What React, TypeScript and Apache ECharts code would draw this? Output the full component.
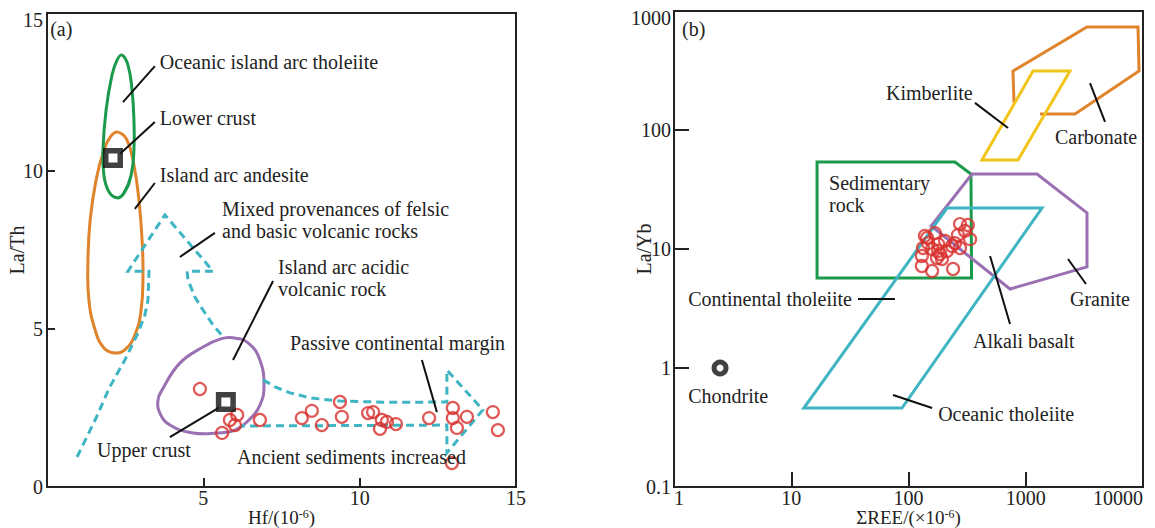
import React, { useEffect, useRef } from "react";
import * as echarts from "echarts";

const FONT = "Liberation Serif";
const TXT = "#222";

// ---------- Panel (a): La/Th vs Hf ----------
const leftXTicks = [0, 5, 10, 15];
const leftYTicks = [0, 5, 10, 15];

const leftSamples: number[][] = [
  [4.89, 3.1], [6.08, 2.28], [5.85, 2.12], [6.01, 1.96], [5.6, 1.71],
  [6.81, 2.12], [8.15, 2.18], [8.47, 2.41], [8.79, 1.96], [9.37, 2.69],
  [9.43, 2.22], [10.27, 2.34], [10.43, 2.37], [10.71, 2.12], [10.87, 2.06],
  [10.65, 1.84], [11.16, 1.99], [12.22, 2.18], [12.98, 2.5], [12.98, 2.18],
  [13.11, 1.87], [13.43, 2.22], [12.95, 0.76], [14.26, 2.37], [14.42, 1.8],
];
const lowerCrust: number[][] = [[2.11, 10.41]];
const upperCrust: number[][] = [[5.72, 2.69]];

const oceanicArcTholeiite: number[][] = [
  [2.4, 13.67], [2.59, 13.35], [2.72, 12.56], [2.78, 11.61], [2.78, 10.66],
  [2.69, 9.87], [2.46, 9.3], [2.24, 9.15], [1.98, 9.34], [1.82, 9.87],
  [1.79, 10.66], [1.89, 11.93], [2.08, 13.04], [2.24, 13.51],
];
const islandArcAndesite: number[][] = [
  [2.27, 11.23], [2.56, 10.98], [2.78, 10.19], [2.94, 9.08], [3.04, 7.82],
  [3.07, 6.71], [3.01, 5.6], [2.81, 4.81], [2.49, 4.34], [2.17, 4.24],
  [1.82, 4.4], [1.54, 4.97], [1.34, 5.92], [1.31, 7.18], [1.38, 8.45],
  [1.57, 9.72], [1.82, 10.66], [2.05, 11.11],
];
const islandArcAcidic: number[][] = [
  [5.95, 4.72], [6.43, 4.56], [6.81, 4.02], [6.94, 3.16], [6.81, 2.59],
  [6.56, 2.22], [6.01, 1.8], [5.44, 1.71], [4.67, 1.71], [3.93, 1.96],
  [3.61, 2.34], [3.55, 2.75], [3.68, 3.07], [4.25, 3.92], [4.99, 4.43],
  [5.53, 4.68],
];
const mixedArrow: number[][] = [
  [0.96, 0.95], [1.54, 2.12], [2.01, 3.17], [2.49, 4.02], [2.91, 4.87],
  [3.13, 5.44], [3.23, 5.92], [3.26, 6.83], [2.59, 6.83], [3.77, 8.61],
  [5.31, 6.83], [4.48, 6.83], [4.51, 6.55], [4.73, 6.01], [4.99, 5.6],
  [5.31, 5.13], [5.63, 4.75],
];
const passiveArrow: number[][] = [
  [6.91, 3.39], [7.29, 3.17], [7.77, 2.98], [8.41, 2.82], [9.37, 2.72],
  [10.97, 2.68], [12.79, 2.69], [12.79, 3.7], [13.94, 2.44], [12.79, 1.08],
  [12.79, 1.96], [6.17, 1.93],
];
const leftLeaders: number[][] = [
  [3.45, 13.32, 2.43, 12.18],
  [3.45, 11.55, 2.33, 10.54],
  [3.45, 9.62, 2.81, 8.8],
  [5.37, 8.04, 4.25, 7.28],
  [7.23, 6.52, 5.95, 4.02],
  [11.99, 4.02, 12.47, 2.37],
  [3.93, 1.58, 5.53, 2.53],
];
const leftLabelTexts = [
  "(a)", "Oceanic island arc tholeiite", "Lower crust", "Island arc andesite",
  "Mixed provenances of felsic", "and basic volcanic rocks", "Island arc acidic",
  "volcanic rock", "Passive continental margin", "Upper crust",
  "Ancient sediments increased",
];
const leftLabelPos: number[][] = [
  [0.1, 14.5], [3.61, 13.45], [3.61, 11.68], [3.61, 9.87], [5.6, 8.8],
  [5.6, 8.1], [7.39, 6.96], [7.39, 6.27], [7.77, 4.56], [1.6, 1.17],
  [6.08, 0.95],
];

// ---------- Panel (b): La/Yb vs ΣREE ----------
const rightSamples: number[][] = [
  [275, 16.2], [321, 15.9], [303, 14.2], [335, 12.1], [264, 13.1],
  [249, 11.2], [275, 10.2], [235, 10.6], [205, 11.7], [179, 11.0],
  [144, 12.4], [168, 13.6], [133, 10.2], [159, 10.0], [179, 9.62],
  [186, 9.08], [193, 8.24], [130, 8.73], [130, 7.2], [159, 6.53],
  [240, 6.79], [147, 11.2], [213, 9.62], [175, 8.4], [138, 12.9],
];
const chondrite: number[][] = [[2.47, 1]];
const carbonate: number[][] = [
  [794, 169], [778, 313], [3327, 734], [9066, 734], [9250, 313],
  [2630, 136], [1324, 136],
];
const kimberlite: number[][] = [[1153, 313], [2384, 313], [859, 56], [423, 56]];
const sedimentary: number[][] = [[16.6, 53.8], [249, 53.8], [341, 42.7], [345, 5.71], [16.6, 5.71]];
const granite: number[][] = [[348, 42.7], [1247, 42.7], [3330, 20.1], [3330, 7.06], [734, 4.61], [156, 15.6]];
const basaltField: number[][] = [[213, 22.1], [1376, 22.1], [88, 0.461], [12.8, 0.461]];
const rightLeaders: number[][] = [
  [369, 169, 706, 104],
  [3532, 248, 4743, 117],
  [37.1, 3.8, 76.7, 3.8],
  [496, 8.73, 734, 2.34],
  [2292, 8.24, 3266, 5.08],
  [73.8, 0.593, 159, 0.461],
];
const rightLabelTexts = [
  "(b)", "Kimberlite", "Carbonate", "Sedimentary", "rock",
  "Continental tholeiite", "Chondrite", "Alkali basalt", "Granite", "Oceanic tholeiite",
];
const rightLabelPos: number[][] = [
  [1.17, 706], [64.3, 205], [1776, 87.3], [21.0, 35.6], [21.0, 23.6],
  [1.32, 3.8], [1.32, 0.582], [355, 1.69], [2384, 3.8], [179, 0.41],
];

const GREEN = "#1a9a4a";
const ORANGE = "#e0842c";
const PURPLE = "#9a70b2";
const CYAN = "#3fb5c3";
const YELLOW = "#f2c51b";
const RED = "#d8302c";

function shape(idx: number, pts: number[][], color: string, closed: boolean, smooth: number, dashed = false) {
  return {
    type: "custom",
    xAxisIndex: idx,
    yAxisIndex: idx,
    silent: true,
    clip: false,
    data: [pts[0]],
    renderItem: (_p: any, api: any) => ({
      type: closed ? "polygon" : "polyline",
      shape: { points: pts.map((p) => api.coord(p)), smooth },
      style: {
        fill: "none",
        stroke: color,
        lineWidth: 3,
        lineDash: dashed ? [8, 5] : null,
        lineJoin: "miter",
      },
    }),
  };
}

function leaders(idx: number, segs: number[][]) {
  return {
    type: "custom",
    xAxisIndex: idx,
    yAxisIndex: idx,
    silent: true,
    clip: false,
    encode: { x: [0, 2], y: [1, 3] },
    data: segs,
    renderItem: (_p: any, api: any) => {
      const a = api.coord([api.value(0), api.value(1)]);
      const b = api.coord([api.value(2), api.value(3)]);
      return {
        type: "line",
        shape: { x1: a[0], y1: a[1], x2: b[0], y2: b[1] },
        style: { stroke: "#111", lineWidth: 2 },
      };
    },
  };
}

function labels(idx: number, pos: number[][], texts: string[]) {
  return {
    type: "custom",
    xAxisIndex: idx,
    yAxisIndex: idx,
    silent: true,
    clip: false,
    data: pos,
    z: 5,
    renderItem: (params: any, api: any) => {
      const p = api.coord([api.value(0), api.value(1)]);
      return {
        type: "text",
        x: p[0],
        y: p[1],
        style: {
          text: texts[params.dataIndex],
          fontFamily: FONT,
          fontSize: 20,
          fill: TXT,
          align: "left",
          verticalAlign: "middle",
        },
      };
    },
  };
}

const axisLine = { show: true, onZero: false, lineStyle: { color: TXT, width: 2 } };
const labelBase = { fontFamily: FONT, fontSize: 20, color: TXT };
const nameBase = { fontFamily: FONT, fontSize: 19, color: TXT, lineHeight: 18 };
const supRich = {
  s: { fontFamily: FONT, fontSize: 12, color: TXT, verticalAlign: "top", lineHeight: 18 },
};
const logFmt = (v: number) => (v < 1 ? String(Number(v.toPrecision(2))) : String(Math.round(v)));

export default function App() {
  const ref = useRef<HTMLDivElement>(null);
  useEffect(() => {
    if (!ref.current) return;
    const chart = echarts.init(ref.current, null, { renderer: "svg" });
    const option: any = {
      animation: false,
      backgroundColor: "#fff",
      grid: [
        { left: 47, top: 13, width: 469, height: 474, show: true, borderColor: TXT, borderWidth: 2, outerBoundsMode: "none", containLabel: false },
        { left: 674, top: 11, width: 469, height: 476, show: true, borderColor: TXT, borderWidth: 2, outerBoundsMode: "none", containLabel: false },
      ],
      xAxis: [
        {
          gridIndex: 0, type: "value", min: leftXTicks[0], max: leftXTicks[3], interval: 5,
          axisLine, splitLine: { show: false },
          axisTick: { inside: true, length: 9, lineStyle: { color: TXT, width: 2 } },
          axisLabel: { ...labelBase, margin: 2, lineHeight: 18, showMinLabel: false },
          name: "Hf/(10{s|-6})", nameLocation: "middle", nameGap: 21, nameMoveOverlap: false,
          nameTextStyle: { ...nameBase, rich: supRich },
        },
        {
          gridIndex: 1, type: "log", logBase: 10, min: 1, max: 10000,
          axisLine, splitLine: { show: false }, minorTick: { show: false },
          axisTick: { inside: true, length: 15, lineStyle: { color: TXT, width: 2 } },
          axisLabel: { ...labelBase, margin: 2, lineHeight: 18, formatter: logFmt, alignMinLabel: "left", alignMaxLabel: "right" },
          name: "ΣREE/(×10{s|-6})", nameLocation: "middle", nameGap: 21, nameMoveOverlap: false,
          nameTextStyle: { ...nameBase, rich: supRich },
        },
      ],
      yAxis: [
        {
          gridIndex: 0, type: "value", min: leftYTicks[0], max: leftYTicks[3], interval: 5,
          axisLine, splitLine: { show: false },
          axisTick: { inside: true, length: 8, lineStyle: { color: TXT, width: 2 } },
          axisLabel: {
            ...labelBase, margin: 4,
            formatter: (v: number) => (v === 15 ? "{t|15}" : String(v)),
            rich: { t: { ...labelBase, padding: [14, 0, 0, 0] } },
          },
          name: "La/Th", nameLocation: "middle", nameGap: 20, nameMoveOverlap: false,
          nameTextStyle: { ...labelBase },
        },
        {
          gridIndex: 1, type: "log", logBase: 10, min: 0.1, max: 1000,
          axisLine, splitLine: { show: false }, minorTick: { show: false },
          axisTick: { inside: true, length: 15, lineStyle: { color: TXT, width: 2 } },
          axisLabel: {
            ...labelBase, margin: 3,
            formatter: (v: number) => (v >= 999 ? "{t|1000}" : logFmt(v)),
            rich: { t: { ...labelBase, padding: [14, 0, 0, 0] } },
          },
          name: "La/Yb", nameLocation: "middle", nameGap: 20, nameMoveOverlap: false,
          nameTextStyle: { ...labelBase },
        },
      ],
      series: [
        shape(0, islandArcAndesite, ORANGE, true, 0.45),
        shape(0, oceanicArcTholeiite, GREEN, true, 0.45),
        shape(0, islandArcAcidic, PURPLE, true, 0.45),
        shape(0, mixedArrow, CYAN, false, 0, true),
        shape(0, passiveArrow, CYAN, false, 0, true),
        leaders(0, leftLeaders),
        {
          type: "scatter", xAxisIndex: 0, yAxisIndex: 0, data: leftSamples, symbol: "circle", symbolSize: 12,
          itemStyle: { color: "rgba(0,0,0,0)", borderColor: RED, borderWidth: 2.2 }, z: 3,
        },
        {
          type: "scatter", xAxisIndex: 0, yAxisIndex: 0, data: [...lowerCrust, ...upperCrust], symbol: "rect", symbolSize: 14.5,
          itemStyle: { color: "#fff", borderColor: "#111", borderWidth: 5.5 }, z: 4,
        },
        labels(0, leftLabelPos, leftLabelTexts),

        shape(1, carbonate, ORANGE, false, 0),
        shape(1, kimberlite, YELLOW, true, 0),
        shape(1, sedimentary, GREEN, true, 0),
        shape(1, granite, PURPLE, true, 0),
        shape(1, basaltField, CYAN, true, 0),
        leaders(1, rightLeaders),
        {
          type: "scatter", xAxisIndex: 1, yAxisIndex: 1, data: rightSamples, symbol: "circle", symbolSize: 12,
          itemStyle: { color: "rgba(0,0,0,0)", borderColor: RED, borderWidth: 2.2 }, z: 3,
        },
        {
          type: "scatter", xAxisIndex: 1, yAxisIndex: 1, data: chondrite, symbol: "circle", symbolSize: 12,
          itemStyle: { color: "#fff", borderColor: "#111", borderWidth: 5 }, z: 4,
        },
        labels(1, rightLabelPos, rightLabelTexts),
      ],
    };
    chart.setOption(option);
    return () => chart.dispose();
  }, []);
  return (
    <div
      ref={ref}
      style={{ position: "fixed", left: 0, top: 0, width: 1155, height: 528, background: "#fff" }}
    />
  );
}
